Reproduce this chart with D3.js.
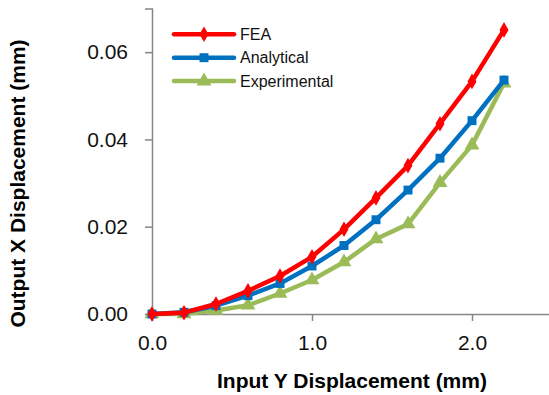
<!DOCTYPE html>
<html>
<head>
<meta charset="utf-8">
<script src="https://cdn.jsdelivr.net/npm/d3@7"></script>
<style>
body { margin: 0; background: #fff; }
svg { display: block; }
</style>
</head>
<body>
<svg></svg>
<script>
var inputY = [0, 0.2, 0.4, 0.6, 0.8, 1.0, 1.2, 1.4, 1.6, 1.8, 2.0, 2.2];
var feaValues = [0, 0.0003, 0.0023, 0.0053, 0.0087, 0.0131, 0.0194, 0.0266, 0.0340, 0.0436, 0.0533, 0.0651];
var analyticalValues = [0, 0.0004, 0.0019, 0.0042, 0.0070, 0.0110, 0.0157, 0.0216, 0.0284, 0.0357, 0.0443, 0.0536];
var experimentalValues = [0, 0, 0.0008, 0.0020, 0.0047, 0.0078, 0.0119, 0.0172, 0.0206, 0.0301, 0.0387, 0.0529];
var seriesNames = ["FEA", "Analytical", "Experimental"];
var xTicks = [0, 1, 2];
var yTicks = [0, 0.02, 0.04, 0.06];

var svgWidth = 549, svgHeight = 395;
var colors = ["#ff0000", "#0070c0", "#9bbb59"];
var shapes = [d3.symbolDiamond, d3.symbolSquare, d3.symbolTriangle];
var sizes = [70, 80, 95];

var svg = d3.select("svg")
  .attr("width", svgWidth)
  .attr("height", svgHeight);

// x axis runs past the right edge, the picture is cropped there
var x = d3.scaleLinear().domain([0, 3]).range([152, 632]);
var y = d3.scaleLinear().domain([0, 0.07]).range([314, 8.5]);

var font = "'Liberation Sans', Arial, sans-serif";

// axes
var xAxis = svg.append("g")
  .attr("transform", "translate(0,314)")
  .call(d3.axisBottom(x).tickValues(xTicks).tickSize(7).tickPadding(14).tickFormat(d3.format(".1f")));
var yAxis = svg.append("g")
  .attr("transform", "translate(152,0)")
  .call(d3.axisLeft(y).tickValues(yTicks).tickSize(7).tickPadding(17).tickFormat(d3.format(".2f")));

[xAxis, yAxis].forEach(function (g) {
  g.select(".domain").attr("stroke", "#868686").attr("stroke-width", 1.5);
  g.selectAll(".tick line").attr("stroke", "#868686").attr("stroke-width", 1.5);
  g.selectAll(".tick text")
    .attr("font-family", font)
    .attr("font-size", "21px")
    .attr("fill", "#111");
});

// series
var series = seriesNames.map(function (name, i) {
  var vals = [feaValues, analyticalValues, experimentalValues][i];
  return { name: name, color: colors[i], shape: shapes[i], size: sizes[i],
    points: inputY.map(function (d, j) { return [d, vals[j]]; }) };
});

var line = d3.line()
  .x(function (d) { return x(d[0]); })
  .y(function (d) { return y(d[1]); });

// draw back to front so FEA stays on top like the original
series.slice().reverse().forEach(function (s) {
  var g = svg.append("g");
  g.append("path")
    .datum(s.points)
    .attr("d", line)
    .attr("fill", "none")
    .attr("stroke", s.color)
    .attr("stroke-width", 4.5)
    .attr("stroke-linejoin", "round");
  g.selectAll("path.marker")
    .data(s.points)
    .enter()
    .append("path")
    .attr("class", "marker")
    .attr("d", d3.symbol().type(s.shape).size(s.size))
    .attr("fill", s.color)
    .attr("transform", function (d) {
      return "translate(" + x(d[0]) + "," + y(d[1]) + ")";
    });
});

// legend
var legend = svg.selectAll("g.legend")
  .data(series)
  .enter()
  .append("g")
  .attr("class", "legend")
  .attr("transform", function (d, i) {
    return "translate(174," + (34.3 + i * 23.4) + ")";
  });
legend.append("line")
  .attr("x1", 0).attr("x2", 60)
  .attr("stroke", function (d) { return d.color; })
  .attr("stroke-width", 4.5)
  .attr("stroke-linecap", "round");
legend.append("path")
  .attr("d", function (d) { return d3.symbol().type(d.shape).size(d.size)(); })
  .attr("fill", function (d) { return d.color; })
  .attr("transform", "translate(30,0)");
legend.append("text")
  .attr("x", 66)
  .attr("y", 0)
  .attr("dy", "0.35em")
  .attr("font-family", font)
  .attr("font-size", "16px")
  .attr("fill", "#111")
  .text(function (d) { return d.name; });

// axis titles
svg.append("text")
  .attr("x", 352)
  .attr("y", 388)
  .attr("text-anchor", "middle")
  .attr("font-family", font)
  .attr("font-size", "21px")
  .attr("font-weight", "bold")
  .text("Input Y Displacement (mm)");

svg.append("text")
  .attr("transform", "translate(25,183.5) rotate(-90)")
  .attr("text-anchor", "middle")
  .attr("font-family", font)
  .attr("font-size", "21px")
  .attr("font-weight", "bold")
  .text("Output X Displacement (mm)");
</script>
</body>
</html>
